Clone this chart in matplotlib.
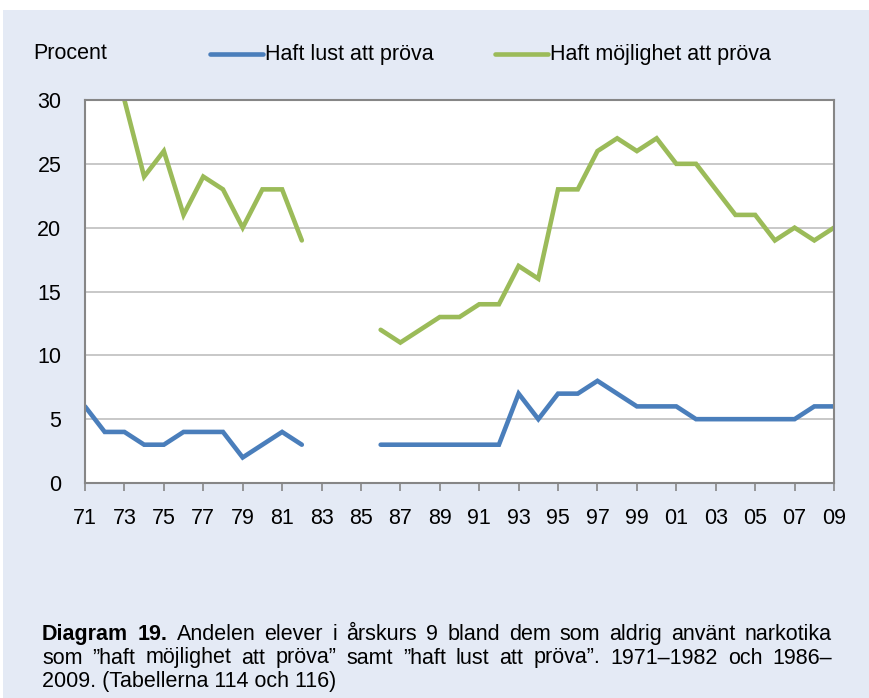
import numpy as np
import matplotlib.pyplot as plt
from matplotlib.lines import Line2D

plt.rcParams['font.family'] = ['Liberation Sans', 'DejaVu Sans']

# data (1971-2009), NaN where no survey value
years = np.arange(1971, 2010)
nan = np.nan
lust = [6, 4, 4, 3, 3, 4, 4, 4, 2, 3, 4, 3,
        nan, nan, nan,
        3, 3, 3, 3, 3, 3, 3, 7, 5, 7, 7, 8, 7, 6, 6, 6, 5, 5, 5, 5, 5, 5, 6, 6]
mojlighet = [nan, nan, 30, 24, 26, 21, 24, 23, 20, 23, 23, 19,
             nan, nan, nan,
             12, 11, 12, 13, 13, 14, 14, 17, 16, 23, 23, 26, 27, 26, 27, 25, 25,
             23, 21, 21, 19, 20, 19, 20]
xtick_years = list(range(1971, 2010, 2))
yticks = [0, 5, 10, 15, 20, 25, 30]

caption_lines = [
    [('Diagram', 'bold'), ('19.', 'bold'), ('Andelen', 'normal'), ('elever', 'normal'),
     ('i', 'normal'), ('årskurs', 'normal'), ('9', 'normal'), ('bland', 'normal'),
     ('dem', 'normal'), ('som', 'normal'), ('aldrig', 'normal'), ('använt', 'normal'),
     ('narkotika', 'normal')],
    [(w, 'normal') for w in
     'som ”haft möjlighet att pröva” samt ”haft lust att pröva”. 1971–1982 och 1986–'.split()],
]
caption_last = '2009. (Tabellerna 114 och 116)'

blue = '#4A7EBB'
green = '#9BBB59'
bg = '#E4EAF5'
fs = 15.5

W, H = 869, 698
fig = plt.figure(figsize=(W / 100, H / 100), dpi=100)
fig.patch.set_facecolor('white')
# light blue panel below a thin white strip
fig.patches.append(plt.Rectangle((3 / W, 0), 1, 1 - 10 / H, transform=fig.transFigure,
                                 facecolor=bg, edgecolor='none', zorder=-10))

ax = fig.add_axes([85 / W, (H - 483) / H, (834 - 85) / W, (483 - 100) / H])
ax.set_facecolor('white')

ax.plot(years, lust, color=blue, lw=3.3, solid_capstyle='round', solid_joinstyle='miter')
ax.plot(years, mojlighet, color=green, lw=3.3, solid_capstyle='round', solid_joinstyle='miter')

ax.set_xlim(1971, 2009)
ax.set_ylim(0, 30)
ax.set_xticks(xtick_years)
ax.set_xticklabels([f"{y % 100:02d}" for y in xtick_years])
ax.set_yticks(yticks)
ax.set_yticklabels([str(v) for v in yticks])
ax.yaxis.grid(True, color='#BFBFBF', lw=1.2)
ax.set_axisbelow(True)

for s in ax.spines.values():
    s.set_color('#868686')
    s.set_linewidth(1.5)

ax.tick_params(axis='x', length=6, width=1.2, color='#868686', pad=12, labelsize=fs)
ax.tick_params(axis='y', length=0, pad=17, labelsize=fs)

# legend row
fig.text(33 / W, 1 - 59 / H, 'Procent', fontsize=fs, va='baseline', ha='left')
for x0, col, lab in [(210, blue, 'Haft lust att pröva'), (495, green, 'Haft möjlighet att pröva')]:
    fig.add_artist(Line2D([x0 / W, (x0 + 53) / W], [1 - 54 / H, 1 - 54 / H],
                          transform=fig.transFigure, color=col, lw=3.3, solid_capstyle='round'))
    fig.text((x0 + 55) / W, 1 - 60 / H, lab, fontsize=fs, va='baseline', ha='left')

# caption, first two lines justified between x=42 and x=832
renderer = fig.canvas.get_renderer()
x_left, x_right = 42, 832
for line, ypx in zip(caption_lines, [640, 663.5]):
    texts = [fig.text(0, 1 - ypx / H, w, fontsize=fs, fontweight=wt, va='baseline', ha='left')
             for w, wt in line]
    widths = [t.get_window_extent(renderer).width for t in texts]
    gap = (x_right - x_left - sum(widths)) / (len(texts) - 1)
    x = x_left
    for t, wd in zip(texts, widths):
        t.set_x(x / W)
        x += wd + gap
fig.text(x_left / W, 1 - 687 / H, caption_last, fontsize=fs, va='baseline', ha='left')

fig.savefig('out.png', dpi=100, facecolor=fig.get_facecolor())
